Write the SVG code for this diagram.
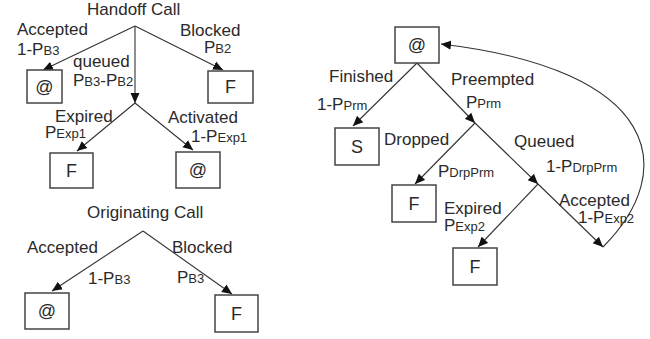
<svg xmlns="http://www.w3.org/2000/svg" width="650" height="339" viewBox="0 0 650 339">
<style>
text{font-family:"Liberation Sans",Arial,sans-serif;font-size:17px;fill:#2a2a2a}
.s{font-size:13px}
.box rect{fill:#fff;stroke:#444;stroke-width:1.5}
.box text{text-anchor:middle;font-size:18px}
#connectors line,#connectors path{stroke:#333;stroke-width:1.1;fill:none;marker-end:url(#ah)}
</style>
<defs>
<marker id="ah" markerUnits="userSpaceOnUse" markerWidth="11" markerHeight="10" refX="10" refY="5" orient="auto">
<path d="M0,0.5 L10,5 L0,9.5 z" fill="#111"/>
</marker>
</defs>
<rect width="650" height="339" fill="#fff"/>
<g id="connectors">
<line x1="135" y1="26" x2="43" y2="70"/>
<line x1="135" y1="26" x2="135" y2="103"/>
<line x1="135" y1="26" x2="223" y2="70"/>
<line x1="135" y1="103" x2="77" y2="151"/>
<line x1="135" y1="103" x2="193" y2="150"/>
<line x1="143" y1="231" x2="52" y2="291"/>
<line x1="143" y1="231" x2="232" y2="294"/>
<line x1="417" y1="63" x2="353" y2="126"/>
<line x1="417" y1="63" x2="475" y2="123"/>
<line x1="475" y1="123" x2="415" y2="184"/>
<line x1="475" y1="123" x2="538" y2="184"/>
<line x1="538" y1="184" x2="478" y2="247"/>
<line x1="538" y1="184" x2="603" y2="247"/>
<path d="M603,247 C680,170 660,70 441,44"/>
</g>
<g id="labels">
<text x="87" y="15">Handoff Call</text>
<text x="17" y="35">Accepted</text>
<text x="17" y="55">1-P<tspan class="s">B3</tspan></text>
<text x="73" y="67">queued</text>
<text x="73" y="86">P<tspan class="s">B3</tspan>-P<tspan class="s">B2</tspan></text>
<text x="180" y="36">Blocked</text>
<text x="204" y="53">P<tspan class="s">B2</tspan></text>
<text x="55" y="122">Expired</text>
<text x="45" y="138">P<tspan class="s">Exp1</tspan></text>
<text x="168" y="123">Activated</text>
<text x="191" y="142">1-P<tspan class="s">Exp1</tspan></text>
<text x="87" y="218">Originating Call</text>
<text x="27" y="253">Accepted</text>
<text x="88" y="284">1-P<tspan class="s">B3</tspan></text>
<text x="172" y="253">Blocked</text>
<text x="177" y="283">P<tspan class="s">B3</tspan></text>
<text x="329" y="82">Finished</text>
<text x="317" y="110">1-P<tspan class="s">Prm</tspan></text>
<text x="451" y="85">Preempted</text>
<text x="466" y="108">P<tspan class="s">Prm</tspan></text>
<text x="384" y="145">Dropped</text>
<text x="438" y="177">P<tspan class="s">DrpPrm</tspan></text>
<text x="514" y="147">Queued</text>
<text x="546" y="172">1-P<tspan class="s">DrpPrm</tspan></text>
<text x="444" y="214">Expired</text>
<text x="444" y="231">P<tspan class="s">Exp2</tspan></text>
<text x="559" y="206">Accepted</text>
<text x="578" y="223">1-P<tspan class="s">Exp2</tspan></text>
</g>
<g id="n_h_acc" class="box"><rect x="27" y="70" width="35" height="33"/><text x="44.5" y="93">@</text></g>
<g id="n_h_blk" class="box"><rect x="208" y="71" width="45" height="32"/><text x="230.5" y="93">F</text></g>
<g id="n_h_exp" class="box"><rect x="50" y="153" width="43" height="35"/><text x="71.5" y="177">F</text></g>
<g id="n_h_act" class="box"><rect x="176" y="152" width="44" height="36"/><text x="198" y="176">@</text></g>
<g id="n_o_acc" class="box"><rect x="25" y="293" width="44" height="36"/><text x="47" y="317">@</text></g>
<g id="n_o_blk" class="box"><rect x="215" y="295" width="43" height="37"/><text x="236.5" y="320">F</text></g>
<g id="n_r_root" class="box"><rect x="395" y="27" width="44" height="36"/><text x="417" y="51">@</text></g>
<g id="n_r_s" class="box"><rect x="335" y="128" width="44" height="37"/><text x="357" y="153">S</text></g>
<g id="n_r_drop" class="box"><rect x="392" y="185" width="44" height="37"/><text x="414" y="210">F</text></g>
<g id="n_r_exp" class="box"><rect x="453" y="248" width="44" height="37"/><text x="475" y="273">F</text></g>
</svg>
